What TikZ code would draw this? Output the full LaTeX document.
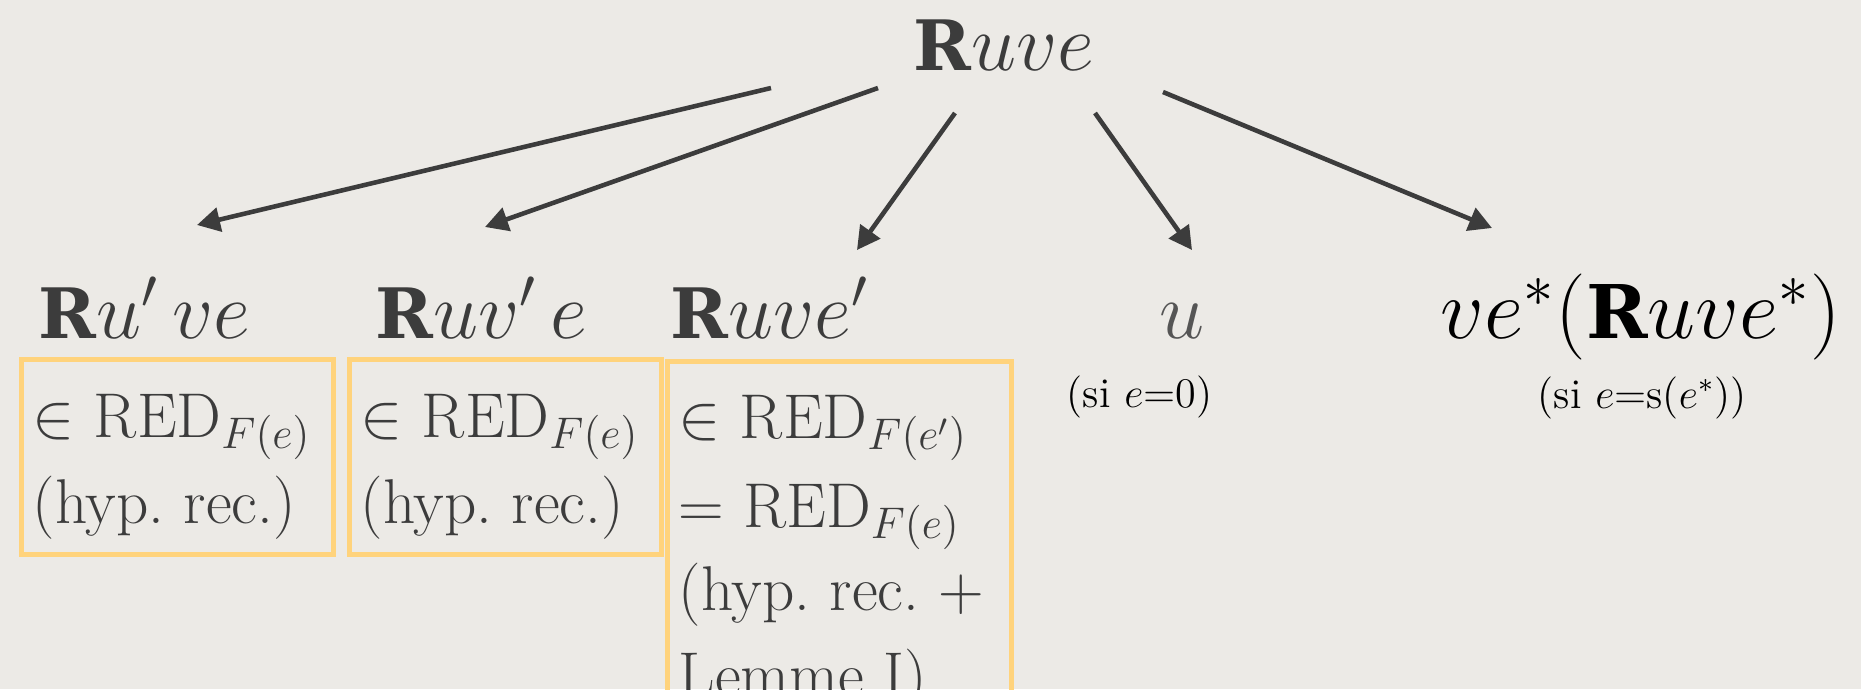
\documentclass[tikz,border=0pt]{standalone}
\usepackage{fix-cm}
\usepackage{fontspec}
\newfontfamily\slabfont[Scale=0.86]{DejaVu Serif}
\usepackage{tikz}
\usetikzlibrary{arrows.meta, positioning, calc}
\definecolor{paper}{HTML}{ECEAE6}
\definecolor{ink}{HTML}{3C3C3C}
\definecolor{softink}{HTML}{555555}
\definecolor{boxline}{HTML}{FFD37C}
\newcommand{\Rs}{\mbox{\slabfont\bfseries R}}
\frenchspacing

\begin{document}
\begin{tikzpicture}[
    lbl/.style={inner sep=0pt, anchor=base west, text=ink, font=\fontsize{23}{27}\selectfont},
    txt/.style={inner sep=0pt, anchor=base west, text=ink, font=\fontsize{18}{24}\selectfont},
    note/.style={inner sep=0pt, anchor=base west, font=\fontsize{12}{14}\selectfont},
    redbox/.style={draw=boxline, line width=1.4pt, inner sep=0pt, anchor=north west},
    arr/.style={draw=ink, line width=1.3pt, -{Triangle[length=0.23cm,width=0.24cm]}}
  ]
  \fill[paper] (0,0) rectangle (18.61,-6.89);
  \useasboundingbox (0,0) rectangle (18.61,-6.89);
  % root and the five cases
  \node[lbl] (root) at (9.13,-0.70) {$\Rs uve$};
  \node[lbl] (ruve1) at (0.38,-3.38) {$\Rs u'\,ve$};
  \node[lbl] (ruve2) at (3.75,-3.38) {$\Rs uv'\,e$};
  \node[lbl] (ruve3) at (6.70,-3.38) {$\Rs uve'$};
  \node[lbl, text=softink] (unode) at (11.59,-3.38) {$u$};
  \node[lbl, text=black, font=\fontsize{24.5}{28}\selectfont] (vstar) at (14.40,-3.38) {$ve^*(\Rs uve^*)$};
  \node[note] (ucond) at (10.66,-4.07) {(si $e$=0)};
  \node[note] (vcond) at (15.37,-4.08) {(si $e$=s($e^*$))};
  % boxes
  \node[redbox, minimum width=3.12cm, minimum height=1.95cm] (box1) at (0.19,-3.57) {};
  \node[redbox, minimum width=3.12cm, minimum height=1.95cm] (box2) at (3.47,-3.57) {};
  \node[redbox, minimum width=3.44cm, minimum height=3.70cm] (box3) at (6.65,-3.59) {};
  \node[txt] (red1) at (0.32,-4.37) {$\in$ RED$_{F(e)}$};
  \node[txt] (hyp1) at (0.32,-5.23) {(hyp. rec.)};
  \node[txt] (red2) at (3.60,-4.37) {$\in$ RED$_{F(e)}$};
  \node[txt] (hyp2) at (3.60,-5.23) {(hyp. rec.)};
  \node[txt] (red3) at (6.78,-4.38) {$\in$ RED$_{F(e')}$};
  \node[txt] (eq3) at (6.78,-5.27) {$=$ RED$_{F(e)}$};
  \node[txt] (hyp3) at (6.78,-6.10) {(hyp. rec. +};
  \node[txt] (lem3) at (6.78,-6.96) {Lemme I)};
  % arrows
  \coordinate (o1) at (7.71,-0.88);
  \coordinate (o2) at (8.78,-0.88);
  \coordinate (o3) at (9.55,-1.13);
  \coordinate (o4) at (10.95,-1.13);
  \coordinate (o5) at (11.63,-0.92);
  \coordinate (t1) at (1.97,-2.25);
  \coordinate (t2) at (4.85,-2.27);
  \coordinate (t3) at (8.57,-2.50);
  \coordinate (t4) at (11.92,-2.50);
  \coordinate (t5) at (14.92,-2.28);
  \draw[arr] (o1) -- (t1);
  \draw[arr] (o2) -- (t2);
  \draw[arr] (o3) -- (t3);
  \draw[arr] (o4) -- (t4);
  \draw[arr] (o5) -- (t5);
\end{tikzpicture}
\end{document}
